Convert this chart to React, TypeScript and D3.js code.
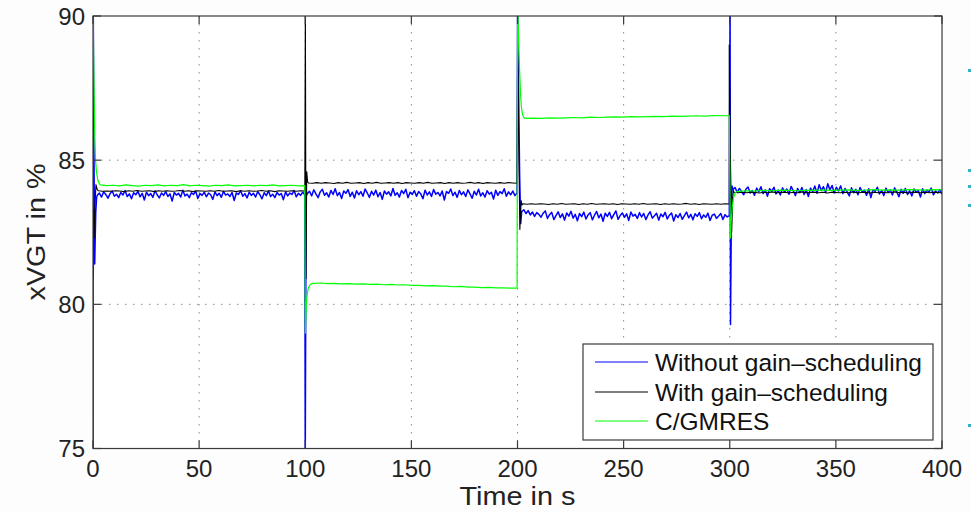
import React from "react";
import * as d3 from "d3";

// ---------- data ----------
const xTicks = [0, 50, 100, 150, 200, 250, 300, 350, 400];
const yTicks = [75, 80, 85, 90];
const seriesNames = ["Without gain\u2013scheduling", "With gain\u2013scheduling", "C/GMRES"];
const seriesColors = ["#0000ff", "#000000", "#00ff00"];
const seriesWidths = [1.5, 1.1, 1.2];

// steady-state spans [start, end] in s for each of the 4 segments
const blueSpans: [number, number][] = [[2, 99.8], [101, 199.8], [202, 299.8], [301.5, 400]];
const blackSpans: [number, number][] = [[2.5, 99.8], [101.5, 199.8], [202.5, 299.8], [302, 400]];
const greenSpans: [number, number][] = [[3.5, 99.8], [104, 199.8], [203.5, 299.8], [304, 400]];

// transients (t, value) right after each set-point change
const blueTrans: [number, number][][] = [
  [[0, 74.5], [0.1, 90.5], [0.4, 86], [0.8, 81.4], [1.3, 83.2], [1.7, 83.7]],
  [[100.0, 74.5], [100.4, 84.0], [100.7, 83.8]],
  [[200.05, 90.5], [200.5, 87.5], [201.0, 84.5], [201.5, 82.8]],
  [[300.15, 90.5], [300.35, 79.3], [300.8, 83.5], [301.1, 84.1]],
];
const blackTrans: [number, number][][] = [
  [[0, 80.9], [0.2, 83.3], [0.5, 82.3], [0.9, 83.4], [1.4, 84.15], [2, 83.98]],
  [[100.05, 90.5], [100.35, 80.9], [100.7, 84.6], [101.1, 84.25]],
  [[200.1, 89.5], [200.5, 86], [201.1, 82.6], [201.7, 83.6], [202.1, 83.45]],
  [[299.75, 89.0], [300.2, 85.5], [300.9, 82.5], [301.4, 83.7], [301.7, 83.95]],
];
const greenTrans: [number, number][][] = [
  [[0, 90.5], [0.4, 88], [0.8, 86], [1.2, 85], [1.7, 84.55], [2.3, 84.3], [3, 84.18]],
  [[100.05, 79.0], [100.3, 79.6], [100.6, 80.1], [101, 80.4], [101.5, 80.58], [102.3, 80.68], [103.2, 80.72]],
  [[200.05, 90.5], [200.5, 89.3], [201, 88.1], [201.5, 87.2], [201.9, 86.8], [202.4, 86.58], [203, 86.48]],
  [[300.1, 83.8], [300.3, 82.3], [300.7, 82.9], [301.2, 83.4], [301.8, 83.7], [302.6, 83.86], [303.3, 83.91]],
];

// steady-state values
const blueSeg0 = [83.78, 83.86, 83.72, 83.90, 83.81, 83.68, 83.84, 83.93, 83.75, 83.82, 83.70, 83.88, 83.79, 83.95, 83.74, 83.83, 83.66, 83.87, 83.80, 83.92, 83.73, 83.85, 83.62, 83.89, 83.77, 83.84, 83.71, 83.94, 83.80, 83.69, 83.86, 83.78, 83.91, 83.74, 83.83, 83.58, 83.88, 83.79, 83.85, 83.72, 83.96, 83.76, 83.82, 83.70, 83.87, 83.81, 83.93, 83.67, 83.84, 83.78, 83.89, 83.73, 83.86, 83.80, 83.64, 83.90, 83.77, 83.85, 83.71, 83.92, 83.79, 83.83, 83.74, 83.88, 83.60, 83.86, 83.81, 83.94, 83.75, 83.84, 83.69, 83.89, 83.78, 83.85, 83.72, 83.91, 83.80, 83.66, 83.87, 83.77, 83.93, 83.74, 83.82, 83.70, 83.88, 83.79, 83.84, 83.63, 83.90, 83.76, 83.86, 83.81, 83.95, 83.73, 83.85, 83.78, 83.89, 83.80];
const blueSeg1 = [83.84, 83.92, 83.76, 83.97, 83.83, 83.70, 83.90, 83.99, 83.78, 83.87, 83.72, 83.95, 83.81, 84.01, 83.77, 83.88, 83.67, 83.93, 83.85, 83.98, 83.74, 83.89, 83.69, 83.94, 83.80, 83.91, 83.75, 84.00, 83.86, 83.71, 83.92, 83.79, 83.96, 83.73, 83.88, 83.64, 83.93, 83.82, 83.90, 83.76, 84.02, 83.78, 83.87, 83.72, 83.95, 83.84, 83.99, 83.70, 83.89, 83.81, 83.94, 83.75, 83.91, 83.83, 83.66, 83.96, 83.79, 83.90, 83.74, 83.98, 83.82, 83.88, 83.76, 83.93, 83.62, 83.91, 83.85, 84.00, 83.77, 83.89, 83.71, 83.95, 83.80, 83.90, 83.74, 83.97, 83.83, 83.68, 83.92, 83.79, 83.99, 83.76, 83.87, 83.72, 83.94, 83.82, 83.89, 83.65, 83.96, 83.78, 83.91, 83.84, 84.01, 83.75, 83.90, 83.80, 83.93, 83.77, 83.86];
const blueSeg2 = [83.22, 83.28, 83.15, 83.25, 83.10, 83.20, 83.05, 83.18, 83.12, 83.02, 83.16, 83.24, 82.98, 83.11, 83.19, 82.94, 83.08, 83.21, 83.01, 83.14, 82.92, 83.17, 83.06, 83.23, 82.99, 83.12, 82.90, 83.15, 83.04, 83.20, 82.96, 83.10, 83.18, 82.93, 83.09, 83.22, 83.00, 83.13, 82.88, 83.16, 83.05, 83.19, 82.97, 83.11, 83.24, 82.95, 83.08, 83.17, 83.02, 83.14, 82.91, 83.20, 83.06, 83.12, 82.98, 83.18, 83.03, 83.15, 82.94, 83.10, 83.21, 82.99, 83.07, 83.16, 82.92, 83.13, 83.04, 83.19, 82.96, 83.09, 83.17, 82.89, 83.11, 83.01, 83.15, 82.95, 83.08, 83.20, 83.00, 83.12, 82.93, 83.14, 83.05, 83.18, 82.97, 83.10, 83.02, 83.16, 82.91, 83.09, 83.13, 82.98, 83.06, 83.15, 82.94, 83.11, 83.03, 83.08];
const blueSeg3 = [83.98, 84.05, 83.88, 84.02, 83.91, 83.80, 83.99, 84.07, 83.86, 83.95, 83.78, 84.03, 83.90, 84.08, 83.84, 83.97, 83.75, 84.01, 83.92, 84.06, 83.83, 83.96, 83.79, 84.04, 83.89, 84.00, 83.82, 84.09, 83.94, 83.77, 84.02, 83.87, 84.05, 83.81, 83.98, 83.74, 84.03, 83.91, 84.10, 83.85, 84.15, 83.95, 84.08, 83.88, 84.18, 83.97, 84.12, 83.86, 84.06, 83.93, 84.11, 83.84, 84.02, 83.90, 83.76, 84.04, 83.87, 83.99, 83.80, 84.05, 83.89, 83.96, 83.78, 84.01, 83.70, 83.98, 83.92, 84.06, 83.83, 83.95, 83.77, 84.03, 83.88, 83.97, 83.79, 84.04, 83.90, 83.73, 83.99, 83.85, 84.02, 83.81, 83.94, 83.76, 84.00, 83.89, 83.95, 83.72, 84.01, 83.84, 83.96, 83.90, 84.03, 83.80, 83.93, 83.86, 83.98, 83.82];

const blackSeg0 = [83.94, 83.92, 83.93, 83.92, 83.94, 83.93, 83.91, 83.94, 83.92, 83.95, 83.92, 83.93, 83.94, 83.91, 83.94, 83.92, 83.94, 83.92, 83.93, 83.95, 83.92, 83.94, 83.91, 83.94, 83.93, 83.92, 83.94, 83.92, 83.95, 83.92, 83.93, 83.94, 83.91, 83.94, 83.92, 83.94, 83.92, 83.93, 83.95, 83.92, 83.94, 83.91, 83.94, 83.93, 83.92, 83.94, 83.92, 83.94, 83.93];
const blackSeg1 = [84.21, 84.20, 84.22, 84.20, 84.22, 84.21, 84.19, 84.22, 84.20, 84.23, 84.20, 84.21, 84.22, 84.19, 84.22, 84.20, 84.23, 84.20, 84.21, 84.22, 84.20, 84.22, 84.19, 84.22, 84.21, 84.20, 84.22, 84.20, 84.23, 84.20, 84.21, 84.22, 84.19, 84.22, 84.20, 84.22, 84.20, 84.21, 84.23, 84.20, 84.22, 84.19, 84.22, 84.21, 84.20, 84.22, 84.20, 84.22, 84.21, 84.20];
const blackSeg2 = [83.49, 83.47, 83.49, 83.47, 83.49, 83.48, 83.46, 83.49, 83.47, 83.50, 83.47, 83.48, 83.49, 83.46, 83.49, 83.47, 83.50, 83.47, 83.48, 83.49, 83.47, 83.49, 83.46, 83.49, 83.48, 83.47, 83.49, 83.47, 83.50, 83.47, 83.48, 83.49, 83.46, 83.49, 83.47, 83.49, 83.47, 83.48, 83.50, 83.47, 83.49, 83.46, 83.49, 83.48, 83.47, 83.49, 83.47, 83.49, 83.48];
const blackSeg3 = [83.89, 83.87, 83.89, 83.87, 83.89, 83.88, 83.86, 83.89, 83.87, 83.90, 83.87, 83.88, 83.89, 83.86, 83.89, 83.87, 83.90, 83.87, 83.88, 83.89, 83.87, 83.89, 83.86, 83.89, 83.88, 83.87, 83.89, 83.87, 83.90, 83.87, 83.88, 83.89, 83.86, 83.89, 83.87, 83.89, 83.87, 83.88, 83.90, 83.87, 83.89, 83.86, 83.89, 83.88, 83.87, 83.89, 83.87, 83.89, 83.88, 83.87];

const greenSeg0 = [84.14, 84.12, 84.13, 84.11, 84.14, 84.12, 84.10, 84.13, 84.12, 84.14, 84.11, 84.13, 84.12, 84.15, 84.11, 84.13, 84.12, 84.10, 84.13, 84.12, 84.14, 84.11, 84.12, 84.13, 84.11, 84.13, 84.12, 84.14, 84.11, 84.12, 84.13, 84.11, 84.12];
const greenSeg1 = [80.73, 80.74, 80.72, 80.73, 80.71, 80.72, 80.70, 80.71, 80.69, 80.70, 80.68, 80.69, 80.67, 80.68, 80.66, 80.66, 80.64, 80.65, 80.63, 80.63, 80.61, 80.62, 80.60, 80.60, 80.58, 80.59, 80.57, 80.57, 80.56, 80.56];
const greenSeg2 = [86.45, 86.46, 86.45, 86.47, 86.46, 86.47, 86.48, 86.47, 86.49, 86.48, 86.49, 86.50, 86.49, 86.51, 86.50, 86.51, 86.52, 86.51, 86.53, 86.52, 86.53, 86.54, 86.53, 86.55, 86.54, 86.55];
const greenSeg3 = [83.92, 83.94, 83.93, 83.95, 83.94, 83.96, 83.95, 83.94, 83.96, 83.95, 83.97, 83.95, 83.96, 83.97, 83.95, 83.96, 83.98, 83.96, 83.97, 83.96, 83.98, 83.97, 83.96, 83.98, 83.97];

// ---------- layout ----------
const W = 971;
const H = 512;
const PL = 93;
const PR = 942;
const PT = 16;
const PB = 448.5;
const FONT = "'Liberation Sans', Arial, Helvetica, sans-serif";

function assemble(trans: [number, number][][], segs: number[][], spans: [number, number][]) {
  const out: [number, number][] = [];
  for (let k = 0; k < segs.length; k++) {
    trans[k].forEach((p) => out.push(p));
    const [a, b] = spans[k];
    const vals = segs[k];
    const n = vals.length;
    vals.forEach((v, i) => out.push([a + ((b - a) * i) / (n - 1), v]));
  }
  return out;
}

export default function App() {
  const x = d3.scaleLinear().domain([0, 400]).range([PL, PR]);
  const y = d3.scaleLinear().domain([75, 90]).range([PB, PT]);
  const line = d3
    .line<[number, number]>()
    .x((d) => x(d[0]))
    .y((d) => y(d[1]));

  const series = [
    assemble(blueTrans, [blueSeg0, blueSeg1, blueSeg2, blueSeg3], blueSpans),
    assemble(blackTrans, [blackSeg0, blackSeg1, blackSeg2, blackSeg3], blackSpans),
    assemble(greenTrans, [greenSeg0, greenSeg1, greenSeg2, greenSeg3], greenSpans),
  ];

  const tickLen = 8;
  const axisColor = "#3a3a3a";
  const legendX = 583;
  const legendY = 344;
  const legendW = 350;
  const legendH = 96;
  const rowY = [362, 392, 421];

  return (
    <svg
      width={W}
      height={H}
      style={{ position: "absolute", left: 0, top: 0, background: "#fff" }}
      fontFamily={FONT}
    >
      <defs>
        <clipPath id="plotclip">
          <rect x={PL} y={PT} width={PR - PL} height={PB - PT} />
        </clipPath>
      </defs>
      <rect x={0} y={0} width={W} height={H} fill="#fdfdfd" />
      <rect x={PL} y={PT} width={PR - PL} height={PB - PT} fill="#ffffff" />

      {/* grid */}
      {xTicks.slice(1, -1).map((t) => (
        <line
          key={"gx" + t}
          x1={x(t)}
          x2={x(t)}
          y1={PT}
          y2={PB}
          stroke="#8a8a8a"
          strokeWidth={1}
          strokeDasharray="1.5,6.5"
        />
      ))}
      {yTicks.slice(1, -1).map((t) => (
        <line
          key={"gy" + t}
          x1={PL}
          x2={PR}
          y1={y(t)}
          y2={y(t)}
          stroke="#8a8a8a"
          strokeWidth={1}
          strokeDasharray="1.5,6.5"
        />
      ))}

      {/* data */}
      <g clipPath="url(#plotclip)">
        {series.map((s, i) => (
          <path
            key={i}
            d={line(s) || ""}
            fill="none"
            stroke={seriesColors[i]}
            strokeWidth={seriesWidths[i]}
            strokeLinejoin="round"
          />
        ))}
      </g>

      {/* frame + ticks */}
      <rect x={PL} y={PT} width={PR - PL} height={PB - PT} fill="none" stroke={axisColor} strokeWidth={1.2} />
      {xTicks.map((t) => (
        <g key={"tx" + t}>
          <line x1={x(t)} x2={x(t)} y1={PB} y2={PB - tickLen} stroke={axisColor} strokeWidth={1.2} />
          <line x1={x(t)} x2={x(t)} y1={PT} y2={PT + tickLen} stroke={axisColor} strokeWidth={1.2} />
          <text x={x(t)} y={477} textAnchor="middle" fontSize={24} fill="#222">
            {t}
          </text>
        </g>
      ))}
      {yTicks.map((t) => (
        <g key={"ty" + t}>
          <line x1={PL} x2={PL + tickLen} y1={y(t)} y2={y(t)} stroke={axisColor} strokeWidth={1.2} />
          <line x1={PR} x2={PR - tickLen} y1={y(t)} y2={y(t)} stroke={axisColor} strokeWidth={1.2} />
          <text x={85} y={y(t) + 8.5} textAnchor="end" fontSize={24} fill="#222">
            {t}
          </text>
        </g>
      ))}

      {/* axis labels */}
      <text x={(PL + PR) / 2} y={505} textAnchor="middle" fontSize={25} fill="#222" textLength={116} lengthAdjust="spacingAndGlyphs">
        Time in s
      </text>
      <text
        transform={`translate(45, 232) rotate(-90)`}
        textAnchor="middle"
        fontSize={25}
        fill="#222"
        textLength={137}
        lengthAdjust="spacingAndGlyphs"
      >
        xVGT in %
      </text>

      {/* legend */}
      <rect x={legendX} y={legendY} width={legendW} height={legendH} fill="#fff" stroke={axisColor} strokeWidth={1.2} />
      {seriesNames.map((n, i) => (
        <g key={"lg" + i}>
          <line x1={595} x2={648} y1={rowY[i]} y2={rowY[i]} stroke={seriesColors[i]} strokeWidth={1.2} />
          <text x={655} y={rowY[i] + 8.5} fontSize={24.5} fill="#111">
            {n}
          </text>
        </g>
      ))}

      {/* small cyan marks at the right edge of the picture */}
      {[70, 170, 186, 205, 425].map((yy) => (
        <rect key={"c" + yy} x={968} y={yy - 1} width={3} height={3} fill="#3aaed0" />
      ))}
    </svg>
  );
}
